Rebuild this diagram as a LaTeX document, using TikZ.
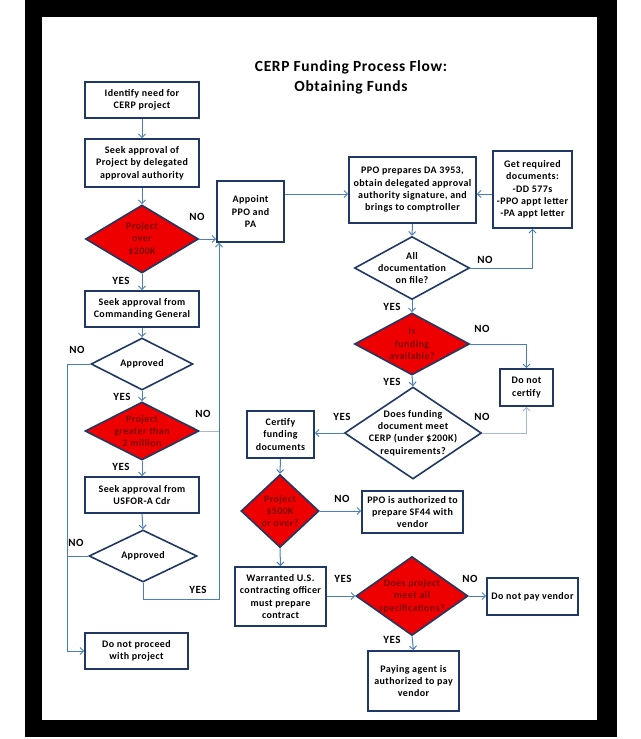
\documentclass[tikz,border=0pt]{standalone}
\usepackage{fontspec}
\setmainfont{Carlito}[LetterSpace=4]
\usetikzlibrary{shapes.geometric,arrows.meta}
\definecolor{navy}{RGB}{31,56,100}
\definecolor{linkblue}{RGB}{74,126,187}
\definecolor{linklight}{RGB}{166,185,211}
\definecolor{fillred}{RGB}{238,0,0}
\definecolor{redtext}{RGB}{125,0,0}
\begin{document}
\begin{tikzpicture}[x=1pt,y=-1pt,
  box/.style={draw=navy, line width=1.6pt, fill=white, align=center, inner sep=1pt,
    font=\bfseries\fontsize{10}{12.3}\selectfont},
  diaw/.style={diamond, draw=navy, line width=1.6pt, fill=white, inner sep=0pt},
  diar/.style={diaw, fill=fillred},
  dtxt/.style={align=center, inner sep=0pt, font=\bfseries\fontsize{10}{12.3}\selectfont},
  rtxt/.style={dtxt, text=redtext},
  lab/.style={font=\bfseries\fontsize{11}{13}\selectfont, inner sep=0pt},
  link/.style={draw=linkblue, line width=1pt},
  lightlink/.style={draw=linklight, line width=1pt},
  arr/.style={link, -{Straight Barb[length=3.5pt,width=7pt]}},
  lightarr/.style={lightlink, -{Straight Barb[length=3.5pt,width=7pt]}},
]
\useasboundingbox (0,0) rectangle (640,739);
\fill[white] (0,0) rectangle (640,739);
\fill[black] (25,0) rectangle (617,737);
\fill[white] (42,17) rectangle (597,720);

% title
\node[font=\bfseries\fontsize{15.5}{20}\selectfont, align=center] (title) at (351,77)
  {CERP Funding Process Flow:\\Obtaining Funds};

% coordinates for buses
\coordinate (lbus) at (67,0);
\coordinate (rbus) at (219,0);
\coordinate (pporow) at (0,194);

% left column
\node[box, minimum width=114, minimum height=36] (identify) at (142,100) {Identify need for\\CERP project};
\node[box, minimum width=114, minimum height=48] (seek1) at (142,163) {Seek approval of\\Project by delegated\\approval authority};
\node[diar, minimum width=113, minimum height=68] (d200) at (142,239) {};
\node[rtxt] (d200t) at (d200) {Project\\over\\\$200K};
\node[box, minimum width=114, minimum height=36] (seekcg) at (142,309) {Seek approval from\\Commanding General};
\node[diaw, minimum width=102, minimum height=52] (appr1) at (142,364) {};
\node[dtxt] (appr1t) at (appr1) {Approved};
\node[diar, minimum width=114, minimum height=58] (d2m) at (142,431) {};
\node[rtxt] (d2mt) at (d2m) {Project\\greater than\\2 million};
\node[box, minimum width=114, minimum height=36] (usfor) at (142,495) {Seek approval from\\USFOR-A Cdr};
\node[diaw, minimum width=108, minimum height=52] (appr2) at (143,556) {};
\node[dtxt] (appr2t) at (appr2) {Approved};
\node[box, minimum width=103, minimum height=36] (noproc) at (136.5,651) {Do not proceed\\with project};

\node[box, minimum width=67, minimum height=61] (appoint) at (250.5,211.5) {Appoint\\PPO and\\PA};

% right column
\node[box, minimum width=127, minimum height=66, inner sep=0pt] (ppo) at (412.5,190) {PPO prepares DA 3953,\\obtain delegated approval\\authority signature, and\\brings to comptroller};
\node[box, minimum width=79, minimum height=77, inner sep=0pt] (getdocs) at (532.5,189.5) {Get required\\documents:\\-DD 577s\\-PPO appt letter\\-PA appt letter};
\node[diaw, minimum width=115, minimum height=63] (alldoc) at (412,268) {};
\node[dtxt] (alldoct) at (alldoc) {All\\documentation\\on file?};
\node[diar, minimum width=115, minimum height=62] (funding) at (412,344) {};
\node[rtxt] (fundingt) at (funding) {Is\\funding\\available?};
\node[box, minimum width=53, minimum height=37] (donotcert) at (526.5,387.5) {Do not\\certify};
\node[diaw, minimum width=137, minimum height=92] (meet) at (413,433) {};
\node[dtxt] (meett) at (meet) {Does funding\\document meet\\CERP (under \$200K)\\requirements?};
\node[box, minimum width=67, minimum height=47] (certify) at (280.5,434.5) {Certify\\funding\\documents};
\node[diar, minimum width=78, minimum height=73] (d500) at (280,511) {};
\node[rtxt] (d500t) at (d500) {Project\\\$500K\\or over?};
\node[box, minimum width=101, minimum height=42] (ppoauth) at (412.5,512) {PPO is authorized to\\prepare SF44 with\\vendor};
\node[box, minimum width=91, minimum height=59, inner sep=0pt] (warranted) at (280.5,596.5) {Warranted U.S.\\contracting officer\\must prepare\\contract};
\node[diar, minimum width=112, minimum height=79] (spec) at (412,596) {};
\node[rtxt] (spect) at (spec) {Does project\\meet all\\specifications?};
\node[box, minimum width=91, minimum height=37, inner sep=0pt] (donotpay) at (532.5,596.5) {Do not pay vendor};
\node[box, minimum width=91, minimum height=60] (paying) at (413.5,681) {Paying agent is\\authorized to pay\\vendor};

% connectors, left
\draw[arr] (identify.south) -- (seek1.north);
\draw[arr] (seek1.south) -- (d200.north);
\draw[arr] (d200.east) -- (d200.east -| appoint.west);
\draw[arr] (d200.south) -- (seekcg.north);
\draw[arr] (seekcg.south) -- (appr1.north);
\draw[arr] (appr1.west) -- (appr1.west -| lbus) -- (lbus |- noproc.west) -- (noproc.west);
\draw[arr] (appr1.south) -- (d2m.north);
\draw[lightlink] (d2m.east) -- (d2m.east -| rbus);
\draw[arr] (d2m.south) -- (usfor.north);
\draw[arr] (usfor.south) -- (appr2.north);
\draw[link] (appr2.west) -- (appr2.west -| lbus);
\draw[arr] (appr2.south) -- ++(0,17) -| (rbus |- appoint.south);
\draw[arr] (appoint.east |- pporow) -- (ppo.west |- pporow);

% connectors, right
\draw[arr] (getdocs.west |- pporow) -- (ppo.east |- pporow);
\draw[arr] (ppo.south) -- (alldoc.north);
\draw[arr] (alldoc.east) -| (getdocs.south);
\draw[arr] (alldoc.south) -- (funding.north);
\draw[arr] (funding.east) -| (donotcert.north);
\draw[arr] (funding.south) -- (meet.north);
\draw[lightarr] (meet.east) -| (donotcert.south);
\draw[arr] (meet.west) -- (certify.east |- meet.west);
\draw[arr] (certify.south) -- (d500.north);
\draw[arr] (d500.east) -- (ppoauth.west |- d500.east);
\draw[arr] (d500.south) -- (warranted.north);
\draw[arr] (warranted.east |- spec.west) -- (spec.west);
\draw[arr] (spec.east) -- (donotpay.west |- spec.east);
\draw[arr] (spec.south) -- (paying.north);

% labels
\node[lab] (l1) at (197,217) {NO};
\node[lab] (l2) at (121,281) {YES};
\node[lab] (l3) at (77,350) {NO};
\node[lab] (l4) at (122,397) {YES};
\node[lab] (l5) at (203,414) {NO};
\node[lab] (l6) at (121,467) {YES};
\node[lab] (l7) at (76,543) {NO};
\node[lab] (l8) at (198,590) {YES};
\node[lab] (l9) at (485,260) {NO};
\node[lab] (l10) at (392,307) {YES};
\node[lab] (l11) at (482,329) {NO};
\node[lab] (l12) at (392,382) {YES};
\node[lab] (l13) at (482,417) {NO};
\node[lab] (l14) at (342,417) {YES};
\node[lab] (l15) at (342,499) {NO};
\node[lab] (l16) at (343,579) {YES};
\node[lab] (l17) at (470,579) {NO};
\node[lab] (l18) at (392,640) {YES};
\end{tikzpicture}
\end{document}
